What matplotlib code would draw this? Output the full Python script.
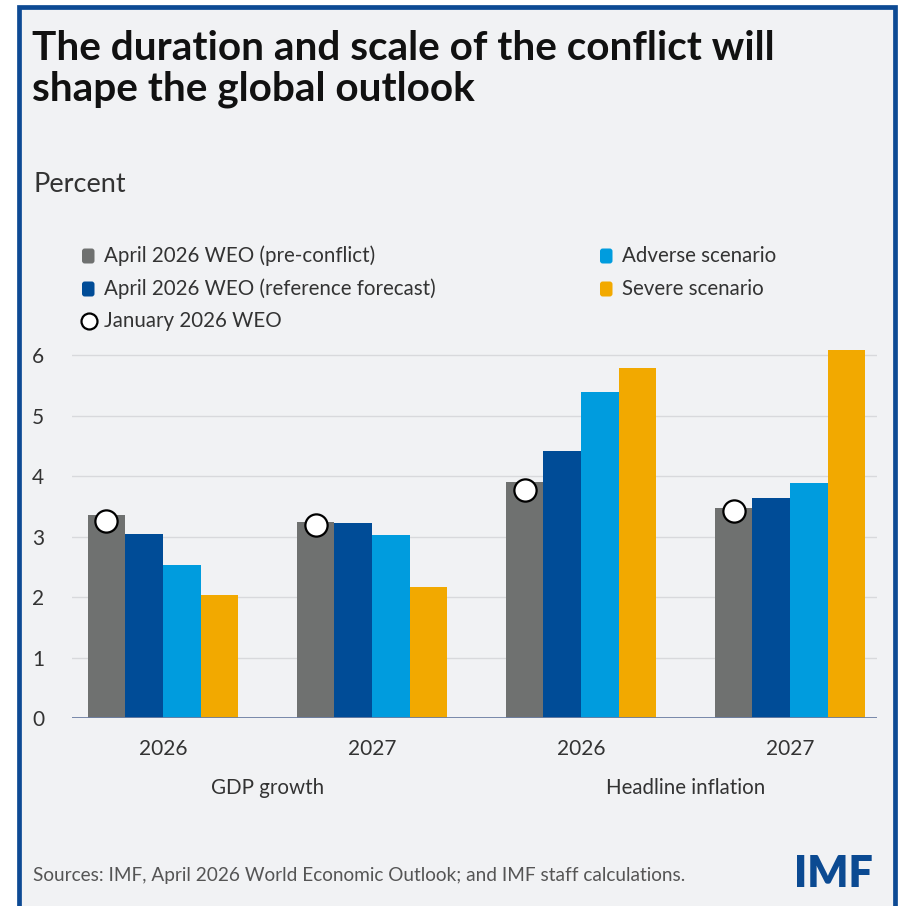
"""
IMF chart - GDP growth and headline inflation under conflict scenarios
"""
import numpy as np
import matplotlib
matplotlib.use('Agg')
import matplotlib.pyplot as plt
from matplotlib import font_manager
from matplotlib.patches import Rectangle, FancyBboxPatch
from matplotlib.lines import Line2D

# data
groups = ['2026', '2027', '2026', '2027']
panels = ['GDP growth', 'Headline inflation']
series = ['April 2026 WEO (pre-conflict)', 'April 2026 WEO (reference forecast)',
          'Adverse scenario', 'Severe scenario']
pre_conflict = [3.36, 3.24, 3.90, 3.48]
reference = [3.05, 3.22, 4.42, 3.64]
adverse = [2.53, 3.02, 5.39, 3.88]
severe = [2.03, 2.17, 5.79, 6.08]
january = [3.25, 3.19, 3.77, 3.42]
yticks = [0, 1, 2, 3, 4, 5, 6]

colors = ['#6f7170', '#004c97', '#009cde', '#f2a900']
BG = '#f1f2f4'
TXT = '#333333'

names = {f.name for f in font_manager.fontManager.ttflist}
BODY = 'Lato' if 'Lato' in names else 'DejaVu Sans'

W, H = 915, 906
fig = plt.figure(figsize=(W / 100, H / 100), dpi=100)
fig.patch.set_facecolor('white')

def fx(px):
    return px / W

def fy(py):
    return 1 - py / H

# framed card
fig.patches.append(Rectangle((fx(19), fy(930)), fx(876), 930 / H - 7 / H,
                             transform=fig.transFigure, facecolor=BG,
                             edgecolor='#0d4a94', linewidth=3.4, zorder=-5))

# title
for py, line in [(60, 'The duration and scale of the conflict will'),
                 (101, 'shape the global outlook')]:
    fig.text(fx(32), fy(py), line, fontsize=29.2, fontweight='bold', family=BODY,
             color='#111111', va='baseline', ha='left')

fig.text(fx(33), fy(185), 'Percent', fontsize=19.5, family=BODY, color=TXT, va='center')

# axes
ax = fig.add_axes([fx(72), 1 - 718 / H, fx(877 - 72), 372 / H])
ax.set_zorder(2)
ax.set_facecolor(BG)
x = np.arange(len(groups))
w = 0.18
vals = [pre_conflict, reference, adverse, severe]
for i, (v, c) in enumerate(zip(vals, colors)):
    ax.bar(x + (i - 1.5) * w, v, width=w, color=c, zorder=2, linewidth=0)
ax.plot(x - 1.5 * w, january, 'o', markersize=16, markerfacecolor='white',
        markeredgecolor='black', markeredgewidth=1.6, zorder=3)

ax.set_ylim(0, 6.15)
ax.set_xlim(-0.435, 3.416)
ax.set_yticks(yticks)
ax.grid(axis='y', color='#d8d9dc', linewidth=1, zorder=0)
ax.set_axisbelow(True)
ax.axhline(0, color='#6d7fa3', linewidth=2, zorder=4)
for s in ax.spines.values():
    s.set_visible(False)
ax.set_xticks(x)
ax.set_xticklabels(groups)
ax.tick_params(axis='both', length=0, labelsize=15, labelcolor=TXT)
ax.tick_params(axis='x', pad=15)
ax.tick_params(axis='y', pad=20)
for lab in ax.get_xticklabels() + ax.get_yticklabels():
    lab.set_family(BODY)

tr = ax.get_xaxis_transform()
for i, p in enumerate(panels):
    ax.text(2 * i + 0.5, -70 / 372, p, transform=tr, ha='center', va='center',
            fontsize=14.8, family=BODY, color=TXT)

# legend
leg = [(82, 256, 0), (82, 289, 1), (600, 256, 2), (600, 289, 3)]
for px, py, k in leg:
    fig.patches.append(FancyBboxPatch((fx(px), fy(py + 7.5)), fx(12.5), 15 / H,
                                      boxstyle='round,pad=0,rounding_size=0.003',
                                      transform=fig.transFigure, facecolor=colors[k],
                                      edgecolor='none'))
    fig.text(fx(px + 22), fy(py), series[k], fontsize=14.8, family=BODY, color=TXT, va='center')
fig.add_artist(Line2D([fx(89)], [fy(321)], marker='o', markersize=11.5, markerfacecolor='white',
                      markeredgecolor='black', markeredgewidth=1.6, transform=fig.transFigure))
fig.text(fx(104), fy(321), 'January 2026 WEO', fontsize=14.8, family=BODY, color=TXT, va='center')

# footer
fig.text(fx(33), fy(876), 'Sources: IMF, April 2026 World Economic Outlook; and IMF staff calculations.',
         fontsize=13.7, family=BODY, color='#555555', va='center')
fig.text(fx(873), fy(887), 'IMF', fontsize=31, fontweight='heavy',
         family=BODY, color='#0b4a92', ha='right', va='baseline')

fig.savefig('out.png', dpi=100, facecolor=fig.get_facecolor())
